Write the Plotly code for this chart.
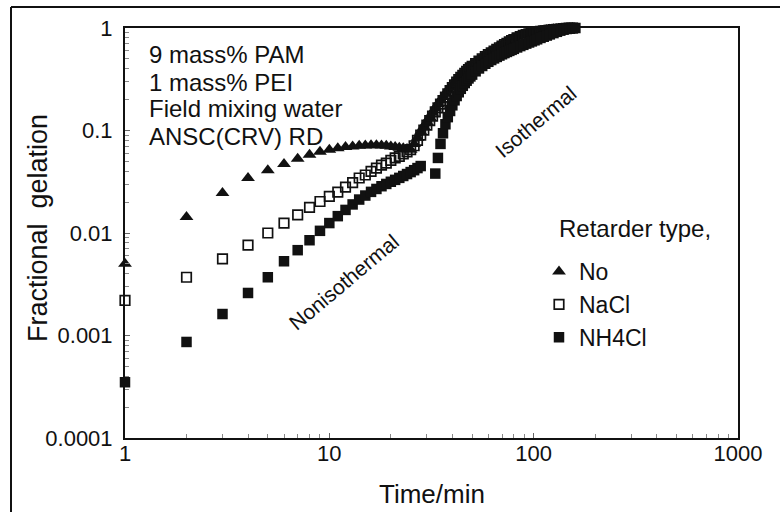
import plotly.graph_objects as go

# Fractional gelation of PAM/PEI gelant vs. time, three retarder types
# --- No retarder (triangles)
t_no = [1, 2, 3, 4, 5, 6, 7, 8, 9, 10, 11, 12, 13, 14, 15, 16, 17, 18, 19, 20, 21, 22, 23, 24, 25,
        26, 27, 28, 29, 30, 31, 32, 33, 34, 35, 36, 37, 38, 39, 40, 41, 42, 43, 44, 45, 46, 47, 48, 49, 50,
        52, 54, 56, 58, 60, 62, 64, 66, 68, 70, 72, 74, 76, 78, 80,
        83, 86, 89, 92, 95, 98, 101, 104, 108, 112, 116, 120,
        125, 130, 135, 140, 145, 150, 155]
f_no = [0.005, 0.0143, 0.0245, 0.0344, 0.041, 0.047, 0.053, 0.058, 0.062, 0.065, 0.067, 0.069, 0.070,
        0.071, 0.0715, 0.0718, 0.0718, 0.0715, 0.071, 0.070, 0.069, 0.068, 0.067, 0.066, 0.065,
        0.074, 0.085, 0.097, 0.109, 0.121, 0.135, 0.149, 0.164, 0.18, 0.196, 0.212, 0.228, 0.245,
        0.262, 0.28, 0.298, 0.315, 0.332, 0.348, 0.364, 0.38, 0.396, 0.411, 0.426, 0.44,
        0.467, 0.493, 0.518, 0.543, 0.566, 0.59, 0.614, 0.638, 0.662, 0.686, 0.708, 0.73, 0.752, 0.774, 0.795,
        0.823, 0.847, 0.866, 0.882, 0.895, 0.906, 0.916, 0.925, 0.936, 0.946, 0.955, 0.963,
        0.971, 0.978, 0.984, 0.989, 0.993, 0.997, 1.0]

# --- NaCl retarder (open squares)
t_nacl = list(t_no)
f_nacl = [0.0022, 0.0037, 0.0056, 0.0076, 0.0100, 0.0125, 0.015, 0.0178, 0.0203, 0.0228, 0.025, 0.028, 0.031,
          0.0344, 0.0368, 0.040, 0.043, 0.046, 0.048, 0.051, 0.054, 0.056, 0.059, 0.062, 0.065,
          0.071, 0.08, 0.09, 0.101, 0.113, 0.125, 0.138, 0.152, 0.166, 0.181, 0.196, 0.212, 0.228,
          0.245, 0.262, 0.279, 0.296, 0.313, 0.33, 0.346, 0.362, 0.378, 0.393, 0.408, 0.423,
          0.45, 0.476, 0.501, 0.526, 0.55, 0.573, 0.596, 0.619, 0.642, 0.665, 0.687, 0.709, 0.731, 0.752, 0.772,
          0.80, 0.825, 0.846, 0.864, 0.879, 0.892, 0.903, 0.913, 0.925, 0.936, 0.945, 0.954,
          0.963, 0.971, 0.978, 0.985, 0.991, 0.996, 1.0]

# --- NH4Cl retarder (filled squares)
t_nh4cl = [1, 2, 3, 4, 5, 6, 7, 8, 9, 10, 11, 12, 13, 14, 15, 16, 17, 18, 19, 20, 21, 22, 23, 24, 25, 26, 27, 28,
           33, 34, 35, 36, 37, 38, 39, 40, 41, 42, 43, 44, 45, 46, 47, 48, 49, 50,
           52, 54, 56, 58, 60, 62, 64, 66, 68, 70, 72, 74, 76, 78, 80,
           83, 86, 89, 92, 95, 98, 101, 104, 108, 112, 116, 120,
           125, 130, 135, 140, 145, 150, 155, 160]
f_nh4cl = [0.00035, 0.000865, 0.00162, 0.0026, 0.0037, 0.0053, 0.0068, 0.0085, 0.0105, 0.0125, 0.0146, 0.0168,
           0.019, 0.0212, 0.0232, 0.0252, 0.0269, 0.0286, 0.0301, 0.0316, 0.033, 0.0345, 0.036, 0.0376,
           0.0393, 0.041, 0.043, 0.045,
           0.038, 0.054, 0.074, 0.094, 0.115, 0.135, 0.155, 0.176, 0.197, 0.217, 0.236, 0.255, 0.273,
           0.29, 0.306, 0.322, 0.337, 0.351,
           0.378, 0.403, 0.426, 0.448, 0.468, 0.487, 0.505, 0.522, 0.538, 0.554, 0.569, 0.584, 0.598, 0.612, 0.626,
           0.646, 0.666, 0.685, 0.704, 0.722, 0.740, 0.758, 0.776, 0.80, 0.822, 0.844, 0.866,
           0.892, 0.918, 0.942, 0.963, 0.978, 0.99, 0.997, 1.0]

x_tickvals = [1, 10, 100, 1000]
x_ticktext = ["1", "10", "100", "1000"]
y_tickvals = [0.0001, 0.001, 0.01, 0.1, 1]
y_ticktext = ["0.0001", "0.001", "0.01", "0.1", "1"]

sample_lines = ["9 mass% PAM", "1 mass% PEI", "Field mixing water", "ANSC(CRV) RD"]

FONT = "Liberation Sans, Arial, Helvetica, sans-serif"
INK = "#111111"

# minor ticks at 2..9 within each decade
x_minor = [m * 10 ** e for e in range(0, 3) for m in range(2, 10)]
y_minor = [m * 10.0 ** e for e in range(-4, 0) for m in range(2, 10)]

fig = go.Figure()
fig.add_trace(go.Scatter(
    x=t_no, y=f_no, mode="markers", name="No", cliponaxis=False,
    marker=dict(symbol="triangle-up", size=12, color=INK, line=dict(width=0))))
fig.add_trace(go.Scatter(
    x=t_nacl, y=f_nacl, mode="markers", name="NaCl", cliponaxis=False,
    marker=dict(symbol="square-open", size=9.5, color=INK, line=dict(width=1.7, color=INK))))
fig.add_trace(go.Scatter(
    x=t_nh4cl, y=f_nh4cl, mode="markers", name="NH4Cl", cliponaxis=False,
    marker=dict(symbol="square", size=10.5, color=INK, line=dict(width=0))))

axis_common = dict(
    showline=True, linewidth=2, linecolor=INK, mirror=True,
    showgrid=False, zeroline=False,
    ticks="inside", ticklen=5, tickwidth=1, tickcolor="#666666",
    tickfont=dict(family=FONT, size=22, color=INK),
)

fig.update_xaxes(type="log", range=[0, 3], tickvals=x_tickvals, ticktext=x_ticktext,
                 ticklabelstandoff=-5,
                 minor=dict(tickvals=x_minor, ticks="inside", ticklen=4, tickwidth=1,
                            tickcolor="#888888", showgrid=False),
                 **axis_common)
fig.update_yaxes(type="log", range=[-4, 0], tickvals=y_tickvals, ticktext=y_ticktext,
                 ticklabelstandoff=6,
                 minor=dict(tickvals=y_minor, ticks="inside", ticklen=4, tickwidth=1,
                            tickcolor="#888888", showgrid=False),
                 **axis_common)

annotations = []
for i, line in enumerate(sample_lines):
    annotations.append(dict(
        xref="paper", yref="paper", x=(147 - 125) / 613, y=(438 - (55 + 27 * i)) / 410,
        xanchor="left", yanchor="middle", showarrow=False, text=line,
        font=dict(family=FONT, size=24, color=INK)))

annotations += [
    dict(xref="paper", yref="paper", x=(557 - 125) / 613, y=(438 - 228) / 410,
         xanchor="left", yanchor="middle", showarrow=False, text="Retarder type,",
         font=dict(family=FONT, size=24, color=INK)),
    dict(xref="x", yref="y", x=1.067, y=-2.478, textangle=-40, showarrow=False,
         text="Nonisothermal", font=dict(family=FONT, size=21, color=INK)),
    dict(xref="x", yref="y", x=2.012, y=-0.917, textangle=-40, showarrow=False,
         text="Isothermal", font=dict(family=FONT, size=21, color=INK)),
    dict(xref="paper", yref="paper", x=0.5, y=(438 - 494) / 410,
         xanchor="center", yanchor="middle", showarrow=False, text="Time/min",
         font=dict(family=FONT, size=26, color=INK)),
    dict(xref="paper", yref="paper", x=(38 - 125) / 613, y=(438 - 228) / 410,
         xanchor="center", yanchor="middle", showarrow=False, textangle=-90,
         text="Fractional&nbsp;&nbsp;gelation",
         font=dict(family=FONT, size=27, color=INK)),
]

# frame lines around the figure (top and left edges)
shapes = [
    dict(type="line", xref="paper", yref="paper",
         x0=(11 - 125) / 613, x1=(782 - 125) / 613,
         y0=(438 - 7) / 410, y1=(438 - 7) / 410,
         line=dict(color=INK, width=2)),
    dict(type="line", xref="paper", yref="paper",
         x0=(11 - 125) / 613, x1=(11 - 125) / 613,
         y0=(438 - 7) / 410, y1=(438 - 514) / 410,
         line=dict(color=INK, width=2)),
]

fig.update_layout(
    width=780, height=512,
    margin=dict(l=125, r=42, t=28, b=74),
    paper_bgcolor="white", plot_bgcolor="white",
    font=dict(family=FONT, color=INK),
    showlegend=True,
    legend=dict(x=(539 - 125) / 613, y=(438 - 250) / 410, xanchor="left", yanchor="top",
                bgcolor="rgba(0,0,0,0)", borderwidth=0, tracegroupgap=0,
                font=dict(family=FONT, size=23, color=INK)),
    annotations=annotations,
    shapes=shapes,
)

fig.write_html("out.html")
